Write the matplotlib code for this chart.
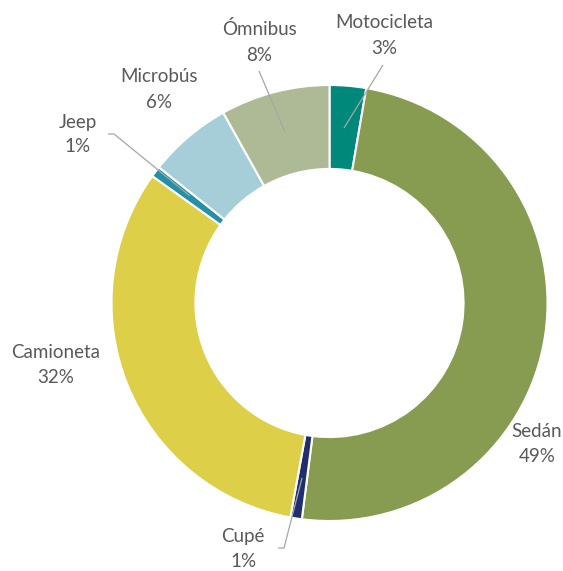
import matplotlib
matplotlib.use("Agg")
import matplotlib.pyplot as plt

categories = ["Motocicleta", "Sedán", "Cupé", "Camioneta", "Jeep", "Microbús", "Ómnibus"]
values = [2.7, 49.3, 0.85, 32.0, 0.8, 6.2, 8.1]
pct_labels = ["3%", "49%", "1%", "32%", "1%", "6%", "8%"]
colors = ["#00897A", "#879C50", "#1F2E6E", "#DDCF48", "#2390A8", "#A6CED8", "#ADBA95"]

plt.rcParams['font.family'] = ['Lato', 'DejaVu Sans']

W, H = 563, 571
fig = plt.figure(figsize=(W / 100, H / 100), dpi=100)
ax = fig.add_axes([0, 0, 1, 1])

R = 218.0
cx, cy = 329.5, 303.0

def P(px, py):
    return ((px - cx) / R, (cy - py) / R)

ax.pie(values, colors=colors, startangle=90, counterclock=False, radius=1.0,
       wedgeprops=dict(width=0.385, edgecolor="white", linewidth=1.5))
ax.set_xlim(-cx / R, (W - cx) / R)
ax.set_ylim(-(H - cy) / R, cy / R)
ax.set_aspect("equal")
ax.axis("off")

# label positions (pixel: center x, baseline y of first line, baseline y of second)
label_pos = {
    "Motocicleta": (384, 28, 54),
    "Sedán": (537, 437, 462),
    "Cupé": (243, 542, 567),
    "Camioneta": (55.5, 358, 383),
    "Jeep": (77.5, 128, 152),
    "Microbús": (159, 82, 108),
    "Ómnibus": (259.5, 35, 61),
}
tc = "#595959"
fs = 13.5
for cat, pct in zip(categories, pct_labels):
    x, y1, y2 = label_pos[cat]
    ax.text(*P(x, y1), cat, ha="center", va="baseline", fontsize=fs, color=tc)
    ax.text(*P(x, y2), pct, ha="center", va="baseline", fontsize=fs, color=tc)

# leader lines
leaders = [
    [(383, 65), (344, 128)],
    [(259, 71), (285, 132)],
    [(108, 134), (114, 134), (190, 196)],
    [(278, 548), (284, 548), (302, 478)],
]
for pts in leaders:
    xs, ys = zip(*[P(a, b) for a, b in pts])
    ax.plot(xs, ys, color="#A6A6A6", linewidth=0.9, solid_capstyle="butt")

fig.savefig("out.png", dpi=100, facecolor="white")
